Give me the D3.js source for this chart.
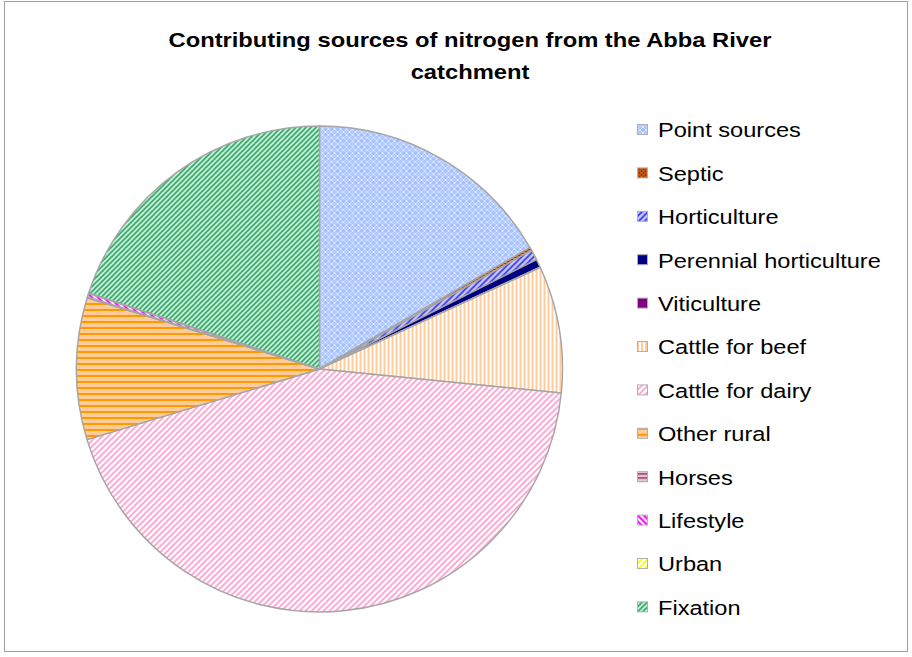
<!DOCTYPE html>
<html><head><meta charset="utf-8">
<script src="https://cdn.jsdelivr.net/npm/d3@7"></script>
<style>body{margin:0;background:#fff;} svg{display:block;font-family:"Liberation Sans",Arial,sans-serif;}</style>
</head><body>
<svg id="c" width="912" height="657"></svg>
<script>
const categories = ["Point sources","Septic","Horticulture","Perennial horticulture","Viticulture","Cattle for beef","Cattle for dairy","Other rural","Horses","Lifestyle","Urban","Fixation"];
const values = [16.7,0.2,0.7,0.55,0.02,8.45,43.8,9.45,0.05,0.25,0.02,19.97];
const titleLines = ["Contributing sources of nitrogen from the Abba River","catchment"];

const svg = d3.select("#c");
const defs = svg.append("defs");

function pat(id, w, h, bg, draw){
  const p = defs.append("pattern").attr("id",id).attr("patternUnits","userSpaceOnUse").attr("width",w).attr("height",h);
  p.append("rect").attr("width",w).attr("height",h).attr("fill",bg);
  draw(p);
}
pat("p0",6,6,"#a3c0ff",p=>{
  p.append("path").attr("d","M0,3 L3,0 L6,3 L3,6 Z").attr("fill","none").attr("stroke","#dde8ff").attr("stroke-width",1);
  p.append("rect").attr("x",2.5).attr("y",2.5).attr("width",1).attr("height",1).attr("fill","#ffffff");
});
pat("p1",4,4,"#e07830",p=>{
  p.append("path").attr("d","M0,0.5H4M0,2.5H4M0.5,0V2M2.5,2V4").attr("stroke","#993300").attr("stroke-width",1);
});
pat("p2",6,6,"#c8c8e8",p=>{
  p.append("path").attr("d","M0,6L6,0M-1,1L1,-1M5,7L7,5").attr("stroke","#3333ff").attr("stroke-width",1.6);
});
pat("p5",4,4,"#ffffff",p=>{
  p.append("rect").attr("x",0).attr("width",2).attr("height",4).attr("fill","#ffcc99");
});
pat("p6",6,6,"#ffffff",p=>{
  p.append("path").attr("d","M0,6L6,0M-1,1L1,-1M5,7L7,5").attr("stroke","#ff99cc").attr("stroke-width",1.6);
});
pat("p7",6,6,"#ffcc99",p=>{
  p.append("rect").attr("y",0).attr("width",6).attr("height",2).attr("fill","#ff9900");
});
pat("p8",4,4,"#e8c8d8",p=>{
  p.append("rect").attr("y",0).attr("width",4).attr("height",1.5).attr("fill","#993366");
});
pat("p9",6,6,"#ffffff",p=>{
  p.append("path").attr("d","M0,0L6,6M-1,5L1,7M5,-1L7,1").attr("stroke","#ff00ff").attr("stroke-width",2);
});
pat("p10",6,6,"#ffffff",p=>{
  p.append("path").attr("d","M0,6L6,0M-1,1L1,-1M5,7L7,5").attr("stroke","#ffff00").attr("stroke-width",2);
});
pat("p11",5,5,"#ccffdd",p=>{
  p.append("path").attr("d","M0,5L5,0M-1,1L1,-1M4,6L6,4").attr("stroke","#339966").attr("stroke-width",1.6);
});

const fills = ["url(#p0)","url(#p1)","url(#p2)","#000080","#800080","url(#p5)","url(#p6)","url(#p7)","url(#p8)","url(#p9)","url(#p10)","url(#p11)"];

svg.append("rect").attr("x",4.5).attr("y",1.5).attr("width",903).attr("height",650)
  .attr("fill","#fff").attr("stroke","#a0a0a0").attr("stroke-width",1);

// horizontally widened text, like the reference rendering
function stretch(sel, f){
  sel.each(function(){
    const L = this.getComputedTextLength();
    d3.select(this).attr("textLength", L*f).attr("lengthAdjust","spacingAndGlyphs");
  });
}

const tt = svg.append("g").selectAll("text").data(titleLines).join("text")
  .attr("x",470).attr("y",(d,i)=>47+i*32).attr("text-anchor","middle")
  .attr("font-size",21).attr("font-weight","bold").attr("fill","#000").text(d=>d);
stretch(tt, 1.13);

const cx = 319.5, cy = 369, r = 243;
const pie = d3.pie().sort(null).value(d=>d)(values);
const arc = d3.arc().innerRadius(0).outerRadius(r);
const g = svg.append("g").attr("transform",`translate(${cx},${cy})`);
g.selectAll("path").data(pie).join("path")
  .attr("d",arc).attr("fill",(d,i)=>fills[i])
  .attr("stroke","#a6a6a6").attr("stroke-width",1.5).attr("stroke-linejoin","round");

const lg = svg.append("g");
const rows = lg.selectAll("g").data(categories).join("g")
  .attr("transform",(d,i)=>`translate(637,${130+i*43.4})`);
rows.append("rect").attr("x",0.5).attr("y",-5.5).attr("width",10).attr("height",10)
  .attr("fill",(d,i)=>fills[i]).attr("stroke","#b0b0b0").attr("stroke-width",1);
const lt = rows.append("text").attr("x",21).attr("y",0).attr("dy","0.36em")
  .attr("font-size",20.5).attr("fill","#000").text(d=>d);
stretch(lt, 1.15);
</script>
</body></html>
